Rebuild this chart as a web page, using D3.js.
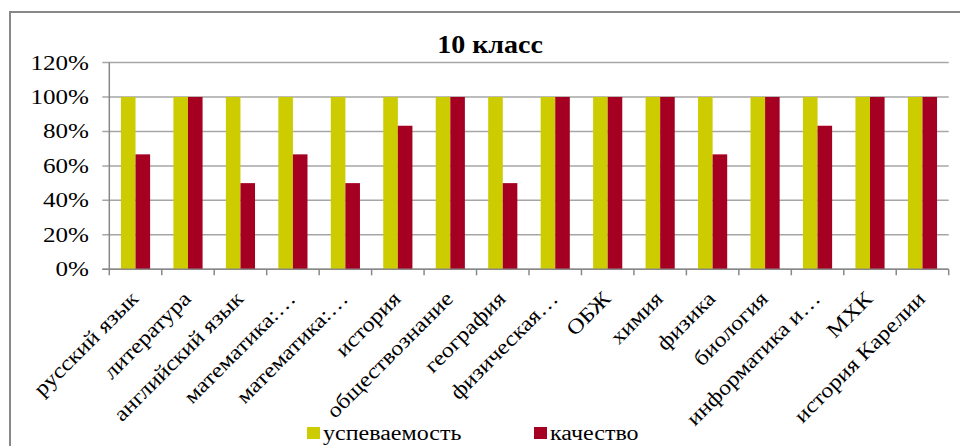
<!DOCTYPE html>
<html>
<head>
<meta charset="utf-8">
<script src="https://cdn.jsdelivr.net/npm/d3@7"></script>
<style>
  body { margin: 0; background: #fff; }
</style>
</head>
<body>
<svg id="chart" width="960" height="446"></svg>
<script>
// data
const categories = ["русский язык", "литература", "английский язык", "математика:…",
  "математика:…", "история", "обществознание", "география", "физическая…", "ОБЖ",
  "химия", "физика", "биология", "информатика и…", "МХК", "история Карелии"];
const seriesNames = ["успеваемость", "качество"];
const uspevaemost = [1, 1, 1, 1, 1, 1, 1, 1, 1, 1, 1, 1, 1, 1, 1, 1];
const kachestvo = [0.667, 1, 0.5, 0.667, 0.5, 0.833, 1, 0.5, 1, 1, 1, 0.667, 1, 0.833, 1, 1];
const yTicks = [0, 0.2, 0.4, 0.6, 0.8, 1.0, 1.2];
const colors = ["#CCCC00", "#A50021"];

const FONT = '"Liberation Serif", "Times New Roman", "DejaVu Serif", serif';
const svg = d3.select("#chart");

// plot area
const plotL = 109.3, plotR = 948.7, plotT = 62.5, plotB = 269.3;

// stretch text a bit horizontally, like the original picture
function stretch(sel, k) {
  sel.each(function () {
    const len = this.getComputedTextLength();
    d3.select(this).attr("textLength", len * k).attr("lengthAdjust", "spacingAndGlyphs");
  });
}

// outer frame
svg.append("path")
  .attr("d", "M10,446 L10,12 L960,12")
  .attr("fill", "none")
  .attr("stroke", "#888")
  .attr("stroke-width", 2);

// two "математика:…" labels, so the band scale is keyed by index
const idx = d3.range(categories.length);
const x = d3.scaleBand().domain(idx).range([plotL, plotR]).padding(0);
const xs = d3.scaleBand().domain(seriesNames).range([0, x.bandwidth()]).paddingInner(0).paddingOuter(0.8);
const y = d3.scaleLinear().domain([0, 1.2]).range([plotB, plotT]);

// gridlines + y ticks
svg.append("g")
  .selectAll("line")
  .data(yTicks)
  .join("line")
  .attr("x1", plotL - 7)
  .attr("x2", plotR)
  .attr("y1", d => y(d))
  .attr("y2", d => y(d))
  .attr("stroke", "#a6a6a6")
  .attr("stroke-width", 1.5);

svg.append("g")
  .selectAll("text")
  .data(yTicks)
  .join("text")
  .attr("x", 89)
  .attr("y", d => y(d) + 7)
  .attr("text-anchor", "end")
  .style("font-family", FONT)
  .style("font-size", "22px")
  .text(d => Math.round(d * 100) + "%")
  .call(stretch, 1.14);

// bars
const rows = idx.map(i => ({ i: i, vals: [uspevaemost[i], kachestvo[i]] }));
const groups = svg.append("g")
  .selectAll("g")
  .data(rows)
  .join("g")
  .attr("transform", d => `translate(${x(d.i)},0)`);

groups.selectAll("rect")
  .data(d => d.vals.map((v, j) => ({ name: seriesNames[j], v: v, j: j })))
  .join("rect")
  .attr("x", d => xs(d.name))
  .attr("width", xs.bandwidth())
  .attr("y", d => y(d.v))
  .attr("height", d => plotB - y(d.v))
  .attr("fill", d => colors[d.j]);

// axes lines
svg.append("line")
  .attr("x1", plotL).attr("x2", plotL)
  .attr("y1", plotT).attr("y2", plotB)
  .attr("stroke", "#888").attr("stroke-width", 1.5);
svg.append("line")
  .attr("x1", plotL - 7).attr("x2", plotR)
  .attr("y1", plotB).attr("y2", plotB)
  .attr("stroke", "#888").attr("stroke-width", 1.5);

// x ticks at category boundaries
const bounds = idx.map(i => x(i)).concat([plotR]);
svg.append("g")
  .selectAll("line")
  .data(bounds)
  .join("line")
  .attr("x1", d => d).attr("x2", d => d)
  .attr("y1", plotB).attr("y2", plotB + 6)
  .attr("stroke", "#888").attr("stroke-width", 1.5);

// category labels
svg.append("g")
  .selectAll("text")
  .data(idx)
  .join("text")
  .attr("text-anchor", "end")
  .attr("transform", i => `translate(${x(i) + x.bandwidth() / 2 + 4},300) rotate(-45)`)
  .style("font-family", FONT)
  .style("font-size", "21px")
  .text(i => categories[i])
  .call(stretch, 1.15);

// title
svg.append("text")
  .attr("x", 490)
  .attr("y", 53)
  .attr("text-anchor", "middle")
  .style("font-family", FONT)
  .style("font-size", "25px")
  .style("font-weight", "bold")
  .text("10 класс")
  .call(stretch, 1.12);

// legend
const legendX = [307, 534];
const legend = svg.append("g")
  .selectAll("g")
  .data(seriesNames)
  .join("g")
  .attr("transform", (d, i) => `translate(${legendX[i]},427)`);
legend.append("rect")
  .attr("width", 13).attr("height", 12)
  .attr("fill", (d, i) => colors[i]);
legend.append("text")
  .attr("x", 16)
  .attr("y", 13)
  .style("font-family", FONT)
  .style("font-size", "20px")
  .text(d => d)
  .call(stretch, 1.2);
</script>
</body>
</html>
